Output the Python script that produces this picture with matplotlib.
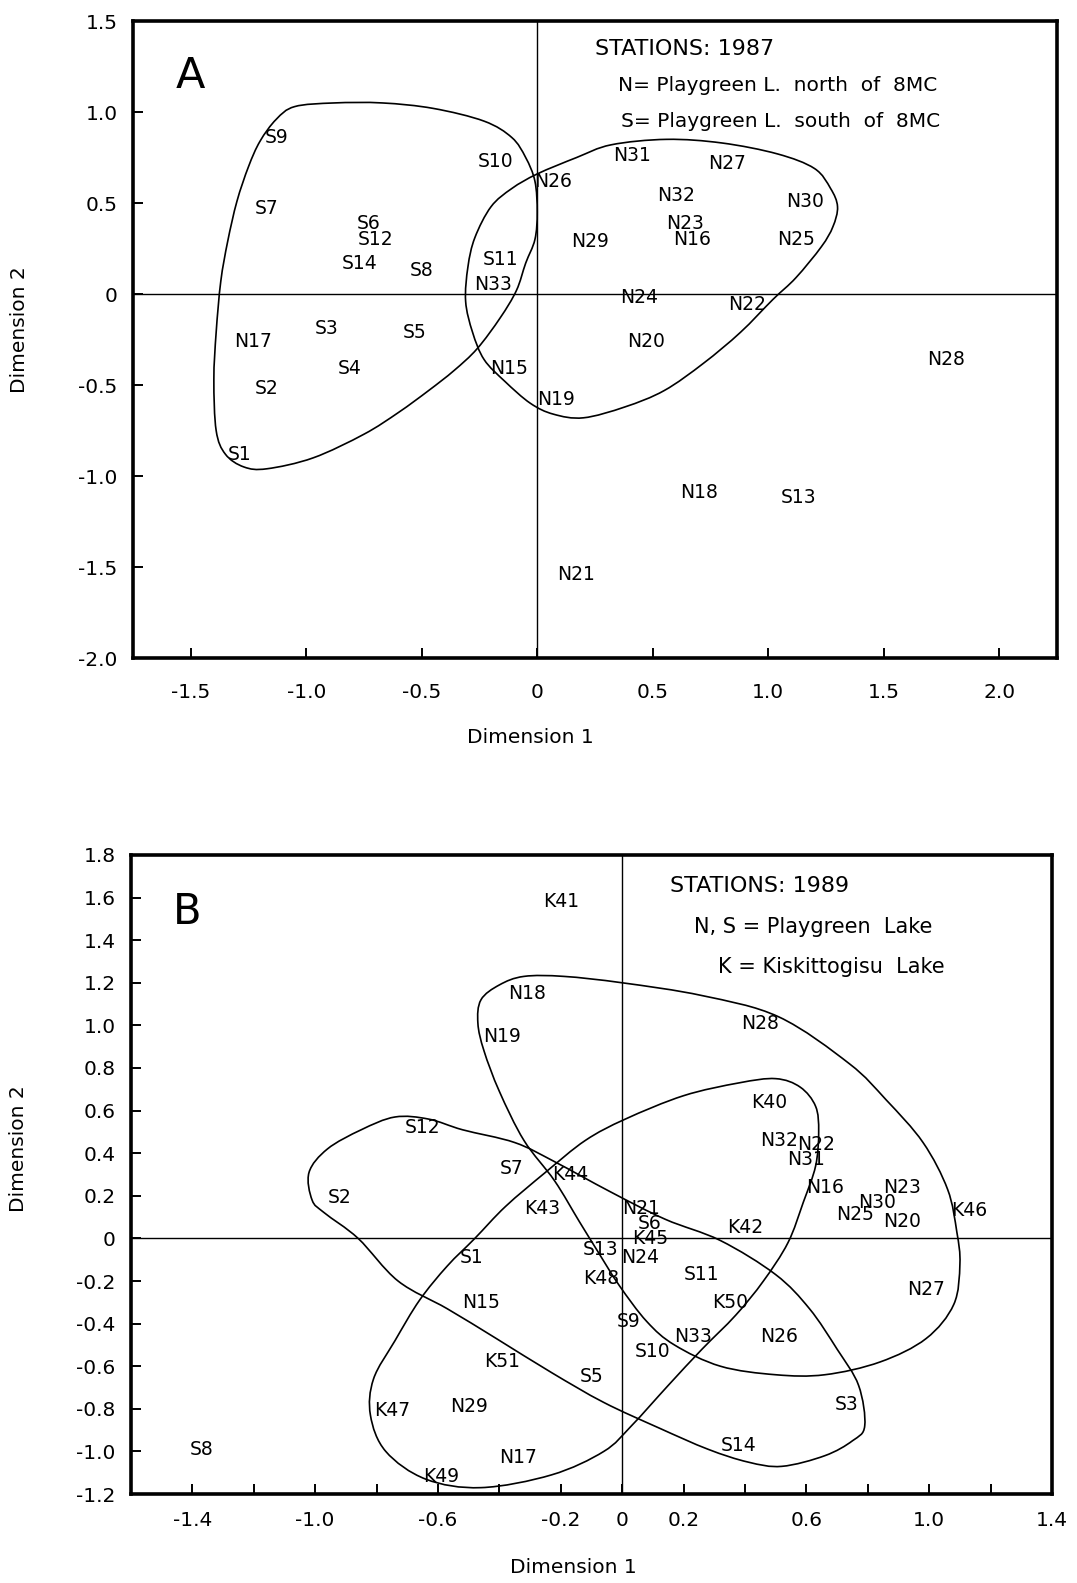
import matplotlib
matplotlib.use("Agg")
import matplotlib.pyplot as plt
import numpy as np
from matplotlib.path import Path
from matplotlib.patches import PathPatch

######################################################################
# DATI - pannello A (stazioni 1987)

stazioni_1987 = ["S9", "S7", "S6", "S12", "S14", "S8", "S10", "S11", "N33",
                 "N17", "S3", "S5", "S4", "S2", "S1", "N15", "N19", "N26",
                 "N31", "N27", "N32", "N30", "N23", "N16", "N29", "N25",
                 "N24", "N22", "N20", "N28", "N18", "S13", "N21"]
dim1_1987 = [-1.13, -1.17, -0.73, -0.70, -0.77, -0.50, -0.18, -0.16, -0.19,
             -1.23, -0.91, -0.53, -0.81, -1.17, -1.29, -0.12, 0.08, 0.07,
             0.41, 0.82, 0.60, 1.16, 0.64, 0.67, 0.23, 1.12,
             0.44, 0.91, 0.47, 1.77, 0.70, 1.13, 0.17]
dim2_1987 = [0.86, 0.47, 0.39, 0.30, 0.17, 0.13, 0.73, 0.19, 0.05,
             -0.26, -0.19, -0.21, -0.41, -0.52, -0.88, -0.41, -0.58, 0.62,
             0.76, 0.72, 0.54, 0.51, 0.39, 0.30, 0.29, 0.30,
             -0.02, -0.06, -0.26, -0.36, -1.09, -1.12, -1.54]

# inviluppi disegnati a mano (vertici)
inv_s_1987_x = [-1.20, -1.13, -1.05, -0.88, -0.67, -0.45, -0.23, -0.11, -0.05, -0.01,
                0.00, -0.01, -0.05, -0.09, -0.16, -0.26, -0.36, -0.47, -0.60, -0.75,
                -0.97, -1.17, -1.27, -1.35, -1.39, -1.40, -1.39, -1.37, -1.34, -1.30, -1.25]
inv_s_1987_y = [0.84, 0.96, 1.03, 1.05, 1.05, 1.02, 0.95, 0.86, 0.75, 0.62,
                0.45, 0.30, 0.17, 0.02, -0.13, -0.30, -0.42, -0.53, -0.65, -0.77,
                -0.90, -0.96, -0.95, -0.88, -0.75, -0.47, -0.21, 0.07, 0.29, 0.51, 0.70]
inv_n_1987_x = [0.00, 0.17, 0.32, 0.56, 0.80, 1.04, 1.20, 1.27, 1.30, 1.28,
                1.23, 1.12, 1.02, 0.88, 0.72, 0.55, 0.38, 0.20, 0.07, -0.03,
                -0.14, -0.23, -0.28, -0.31, -0.30, -0.27, -0.20, -0.11]
inv_n_1987_y = [0.66, 0.75, 0.82, 0.85, 0.83, 0.77, 0.69, 0.58, 0.48, 0.37,
                0.26, 0.09, -0.03, -0.21, -0.38, -0.53, -0.62, -0.68, -0.66, -0.60,
                -0.48, -0.36, -0.21, -0.04, 0.15, 0.31, 0.48, 0.58]

tick_x_1987 = [-1.5, -1.0, -0.5, 0, 0.5, 1.0, 1.5, 2.0]
etich_x_1987 = ["-1.5", "-1.0", "-0.5", "0", "0.5", "1.0", "1.5", "2.0"]
tick_y_1987 = [-2.0, -1.5, -1.0, -0.5, 0, 0.5, 1.0, 1.5]
etich_y_1987 = ["-2.0", "-1.5", "-1.0", "-0.5", "0", "0.5", "1.0", "1.5"]

######################################################################
# DATI - pannello B (stazioni 1989)

stazioni_1989 = ["K41", "N18", "N19", "N28", "K40", "S12", "N32", "N22", "N31",
                 "S7", "K44", "N16", "N23", "S2", "N30", "K46", "K43", "N25",
                 "N20", "N21", "S6", "K45", "K42", "S13", "N24", "S1", "S11",
                 "K48", "N27", "N15", "K50", "S9", "N33", "N26", "S10", "K51",
                 "S5", "S3", "K47", "N29", "S8", "S14", "N17", "K49"]
dim1_1989 = [-0.20, -0.31, -0.39, 0.45, 0.48, -0.65, 0.51, 0.63, 0.60,
             -0.36, -0.17, 0.66, 0.91, -0.92, 0.83, 1.13, -0.26, 0.76,
             0.91, 0.06, 0.09, 0.09, 0.40, -0.07, 0.06, -0.49, 0.26,
             -0.07, 0.99, -0.46, 0.35, 0.02, 0.23, 0.51, 0.10, -0.39,
             -0.10, 0.73, -0.75, -0.50, -1.37, 0.38, -0.34, -0.59]
dim2_1989 = [1.58, 1.15, 0.95, 1.01, 0.64, 0.52, 0.46, 0.44, 0.37,
             0.33, 0.30, 0.24, 0.24, 0.19, 0.17, 0.13, 0.14, 0.11,
             0.08, 0.14, 0.07, 0.00, 0.05, -0.05, -0.09, -0.09, -0.17,
             -0.19, -0.24, -0.30, -0.30, -0.39, -0.46, -0.46, -0.53, -0.58,
             -0.65, -0.78, -0.81, -0.79, -0.99, -0.97, -1.03, -1.12]

inv_n_1989_x = [-0.47, -0.46, -0.40, -0.32, -0.19, 0.00, 0.26, 0.51, 0.74, 0.86,
                0.98, 1.06, 1.09, 1.10, 1.08, 0.99, 0.84, 0.66, 0.50, 0.32,
                0.17, 0.08, -0.01, -0.08, -0.14, -0.22, -0.32, -0.40, -0.45]
inv_n_1989_y = [1.01, 1.12, 1.19, 1.23, 1.23, 1.20, 1.14, 1.04, 0.82, 0.65,
                0.45, 0.23, 0.03, -0.12, -0.31, -0.47, -0.58, -0.64, -0.64, -0.60,
                -0.50, -0.39, -0.22, -0.06, 0.08, 0.27, 0.46, 0.69, 0.88]
inv_k_1989_x = [-0.48, -0.38, -0.25, -0.12, 0.01, 0.20, 0.38, 0.50, 0.58, 0.63,
                0.64, 0.63, 0.59, 0.54, 0.46, 0.37, 0.26, 0.15, 0.03, -0.06,
                -0.23, -0.46, -0.64, -0.77, -0.82, -0.81, -0.74, -0.66, -0.57]
inv_k_1989_y = [0.00, 0.15, 0.31, 0.46, 0.56, 0.67, 0.73, 0.75, 0.71, 0.62,
                0.50, 0.34, 0.17, -0.02, -0.20, -0.36, -0.52, -0.69, -0.88, -1.00,
                -1.11, -1.17, -1.13, -1.00, -0.83, -0.66, -0.48, -0.29, -0.13]
inv_s_1989_x = [-1.02, -0.96, -0.85, -0.74, -0.63, -0.52, -0.35, -0.22, -0.04, 0.14,
                0.32, 0.50, 0.61, 0.70, 0.77, 0.79, 0.75, 0.66, 0.52, 0.41,
                0.28, 0.12, -0.06, -0.23, -0.41, -0.57, -0.73, -0.86, -0.97, -1.01]
inv_s_1989_y = [0.31, 0.42, 0.51, 0.57, 0.56, 0.51, 0.45, 0.36, 0.22, 0.09,
                -0.01, -0.17, -0.33, -0.52, -0.69, -0.88, -0.95, -1.02, -1.07, -1.05,
                -0.99, -0.89, -0.77, -0.63, -0.47, -0.33, -0.20, 0.00, 0.12, 0.18]

tick_x_1989 = [-1.4, -1.2, -1.0, -0.8, -0.6, -0.4, -0.2, 0, 0.2, 0.4, 0.6, 0.8, 1.0, 1.2, 1.4]
etich_x_1989 = ["-1.4", "", "-1.0", "", "-0.6", "", "-0.2", "0", "0.2", "", "0.6", "", "1.0", "", "1.4"]
tick_y_1989 = [-1.2, -1.0, -0.8, -0.6, -0.4, -0.2, 0, 0.2, 0.4, 0.6, 0.8, 1.0, 1.2, 1.4, 1.6, 1.8]
etich_y_1989 = ["-1.2", "-1.0", "-0.8", "-0.6", "-0.4", "-0.2", "0", "0.2", "0.4",
                "0.6", "0.8", "1.0", "1.2", "1.4", "1.6", "1.8"]

######################################################################
# FUNZIONI

def inviluppo(ax, xs, ys):
    # curva chiusa morbida (Catmull-Rom -> Bezier cubiche)
    p = np.column_stack([xs, ys])
    n = len(p)
    verts = [p[0]]
    codes = [Path.MOVETO]
    for i in range(n):
        p0, p1, p2, p3 = p[i-1], p[i], p[(i+1) % n], p[(i+2) % n]
        verts += [p1 + (p2-p0)/6, p2 - (p3-p1)/6, p2]
        codes += [Path.CURVE4]*3
    ax.add_patch(PathPatch(Path(verts, codes), fill=False, lw=1.2,
                           edgecolor='black', zorder=2))

def prepara_assi(ax, tx, ex, ty, ey, pad_x):
    for s in ax.spines.values():
        s.set_linewidth(2.6)
    ax.axhline(0, color='black', lw=1.0, zorder=1)
    ax.axvline(0, color='black', lw=1.0, zorder=1)
    ax.set_xticks(tx)
    ax.set_xticklabels(ex)
    ax.set_yticks(ty)
    ax.set_yticklabels(ey)
    ax.tick_params(direction='in', length=7, width=1.4, labelsize=14.5)
    ax.tick_params(axis='x', pad=pad_x)
    ax.tick_params(axis='y', pad=11)
    ax.set_xlabel("Dimension 1", fontsize=14.5)
    ax.set_ylabel("Dimension 2", fontsize=14.5)

def etichette(ax, nomi, x, y):
    for nome, xi, yi in zip(nomi, x, y):
        ax.text(xi, yi, nome, ha='center', va='center', fontsize=13.5, zorder=3)

######################################################################
# FIGURA

fig = plt.figure(figsize=(10.77, 15.83), dpi=100)

axA = fig.add_axes([0.1235, 0.5843, 0.8579, 0.4024])
axA.set_xlim(-1.75, 2.25)
axA.set_ylim(-2.0, 1.5)
prepara_assi(axA, tick_x_1987, etich_x_1987, tick_y_1987, etich_y_1987, 18)
inviluppo(axA, inv_s_1987_x, inv_s_1987_y)
inviluppo(axA, inv_n_1987_x, inv_n_1987_y)
etichette(axA, stazioni_1987, dim1_1987, dim2_1987)
axA.xaxis.set_label_coords(0.43, -0.11)
axA.yaxis.set_label_coords(-0.113, 0.515)
axA.text(0.046, 0.913, "A", transform=axA.transAxes, fontsize=31, va='center')
axA.text(0.50, 0.956, "STATIONS: 1987", transform=axA.transAxes, fontsize=16, va='center')
axA.text(0.525, 0.899, "N= Playgreen L.  north  of  8MC", transform=axA.transAxes,
         fontsize=14.5, va='center')
axA.text(0.528, 0.843, "S= Playgreen L.  south  of  8MC", transform=axA.transAxes,
         fontsize=14.5, va='center')

axB = fig.add_axes([0.1216, 0.0562, 0.8552, 0.4037])
axB.set_xlim(-1.6, 1.4)
axB.set_ylim(-1.2, 1.8)
prepara_assi(axB, tick_x_1989, etich_x_1989, tick_y_1989, etich_y_1989, 12)
inviluppo(axB, inv_n_1989_x, inv_n_1989_y)
inviluppo(axB, inv_k_1989_x, inv_k_1989_y)
inviluppo(axB, inv_s_1989_x, inv_s_1989_y)
etichette(axB, stazioni_1989, dim1_1989, dim2_1989)
axB.xaxis.set_label_coords(0.48, -0.1)
axB.yaxis.set_label_coords(-0.112, 0.54)
axB.text(0.046, 0.911, "B", transform=axB.transAxes, fontsize=30, va='center')
axB.text(0.585, 0.952, "STATIONS: 1989", transform=axB.transAxes, fontsize=16, va='center')
axB.text(0.611, 0.887, "N, S = Playgreen  Lake", transform=axB.transAxes,
         fontsize=15, va='center')
axB.text(0.637, 0.824, "K = Kiskittogisu  Lake", transform=axB.transAxes,
         fontsize=15, va='center')

plt.savefig("out.png", dpi=100)
